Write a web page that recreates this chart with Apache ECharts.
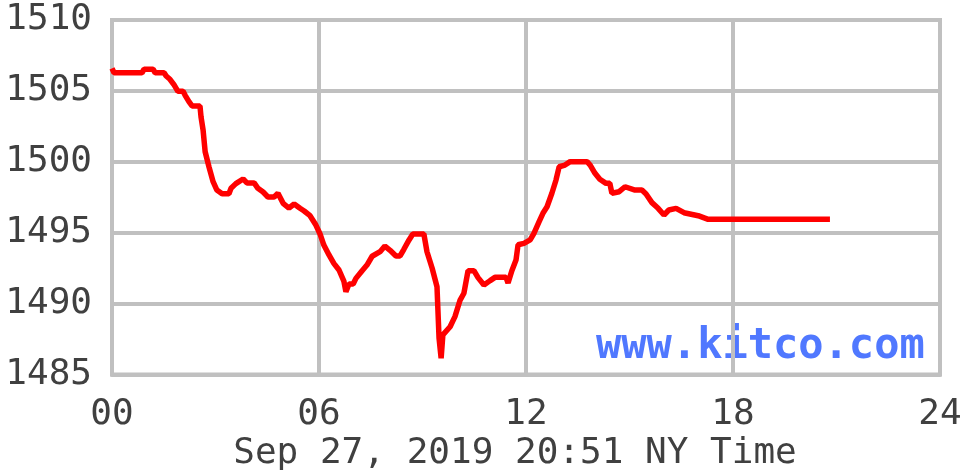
<!DOCTYPE html>
<html>
<head>
<meta charset="utf-8">
<script src="https://cdn.jsdelivr.net/npm/echarts@6/dist/echarts.min.js"></script>
<style>
html,body{margin:0;padding:0;background:#fff;}
#chart{width:960px;height:476px;}
</style>
</head>
<body>
<div id="chart"></div>
<script>
// Hours since midnight (NY time)
var hours = [0.00,0.06,0.87,0.93,1.19,1.25,1.51,1.57,1.68,1.80,1.91,2.06,2.12,2.23,2.32,2.55,2.58,2.64,2.70,2.81,
  2.93,3.04,3.19,3.39,3.45,3.59,3.80,3.91,4.12,4.23,4.38,4.52,4.70,4.81,4.96,5.13,5.28,5.45,5.57,5.74,
  5.91,6.03,6.14,6.29,6.43,6.58,6.72,6.78,6.87,6.99,7.07,7.25,7.39,7.54,7.77,7.91,8.06,8.23,8.35,8.46,
  8.61,8.72,9.04,9.13,9.28,9.42,9.48,9.54,9.59,9.80,9.94,10.09,10.20,10.32,10.49,10.61,10.78,10.96,11.10,11.42,
  11.48,11.59,11.71,11.77,11.94,12.12,12.23,12.38,12.49,12.61,12.75,12.87,12.96,13.13,13.28,13.77,13.86,14.00,14.14,14.32,
  14.43,14.49,14.70,14.87,15.16,15.36,15.48,15.65,15.83,16.00,16.14,16.35,16.58,16.99,17.28,20.81];
// Gold price (USD)
var prices = [1506.59,1506.28,1506.28,1506.53,1506.53,1506.28,1506.28,1506.05,1505.82,1505.42,1504.97,1504.97,1504.69,1504.24,1503.94,1503.94,1503.18,1502.24,1500.71,1499.65,
  1498.60,1498.01,1497.75,1497.75,1498.13,1498.46,1498.79,1498.51,1498.51,1498.13,1497.87,1497.52,1497.52,1497.78,1497.07,1496.74,1497.02,1496.72,1496.53,1496.20,
  1495.54,1494.91,1494.13,1493.43,1492.84,1492.37,1491.59,1490.84,1491.38,1491.38,1491.78,1492.32,1492.72,1493.34,1493.66,1494.06,1493.76,1493.36,1493.36,1493.83,
  1494.49,1494.91,1494.91,1493.66,1492.49,1491.19,1487.55,1486.14,1487.79,1488.37,1489.08,1490.25,1490.73,1492.32,1492.32,1491.83,1491.31,1491.62,1491.85,1491.85,
  1491.45,1492.32,1493.07,1494.15,1494.25,1494.49,1494.96,1495.78,1496.37,1496.83,1497.78,1498.72,1499.65,1499.77,1500.01,1500.01,1499.77,1499.19,1498.77,1498.48,
  1498.48,1497.78,1497.89,1498.24,1498.01,1498.01,1497.73,1497.12,1496.72,1496.25,1496.60,1496.72,1496.41,1496.20,1495.94,1495.94];
var xTickLabels = ['00','06','12','18','24'];
var yMin = 1485, yMax = 1510, yStep = 5;
var titleText = 'Sep 27, 2019 20:51 NY Time';
var watermark = 'www.kitco.com';

var data = hours.map(function(h, i){ return [h, prices[i]]; });
var FONT = '"DejaVu Sans Mono", monospace';
var chart = echarts.init(document.getElementById('chart'), null, {renderer:'canvas'});
chart.setOption({
  animation: false,
  backgroundColor: '#ffffff',
  grid: {left:112, right:20, top:20, bottom:101.5, containLabel:false, outerBoundsMode:'none',
    show:true, borderColor:'#c0c0c0', borderWidth:4, backgroundColor:'transparent'},
  xAxis: {
    type:'value', min:0, max:24, interval:6,
    axisLine:{show:true, lineStyle:{color:'#c0c0c0', width:4}},
    axisTick:{show:false},
    splitLine:{show:true, lineStyle:{color:'#c0c0c0', width:4}},
    axisLabel:{color:'#404040', fontFamily:FONT, fontSize:36, margin:22,
      formatter:function(v){ return xTickLabels[Math.round(v/6)]; }}
  },
  yAxis: {
    type:'value', min:yMin, max:yMax, interval:yStep,
    axisLine:{show:true, lineStyle:{color:'#c0c0c0', width:4}},
    axisTick:{show:false},
    splitLine:{show:true, lineStyle:{color:'#c0c0c0', width:4}},
    axisLabel:{color:'#404040', fontFamily:FONT, fontSize:36, margin:20,
      formatter:function(v){ return String(v); }}
  },
  graphic: [
    {type:'text', x:596, y:347, style:{text:watermark, fill:'#5078ff', font:'bold 42px "DejaVu Sans Mono", monospace', verticalAlign:'middle', align:'left'}},
    {type:'text', x:515, y:454, style:{text:titleText, fill:'#404040', font:'36px "DejaVu Sans Mono", monospace', verticalAlign:'middle', align:'center'}}
  ],
  series: [{
    type:'line', data:data, showSymbol:false, symbol:'none',
    lineStyle:{color:'#ff0000', width:5.5}, z:5
  }]
});
</script>
</body>
</html>
